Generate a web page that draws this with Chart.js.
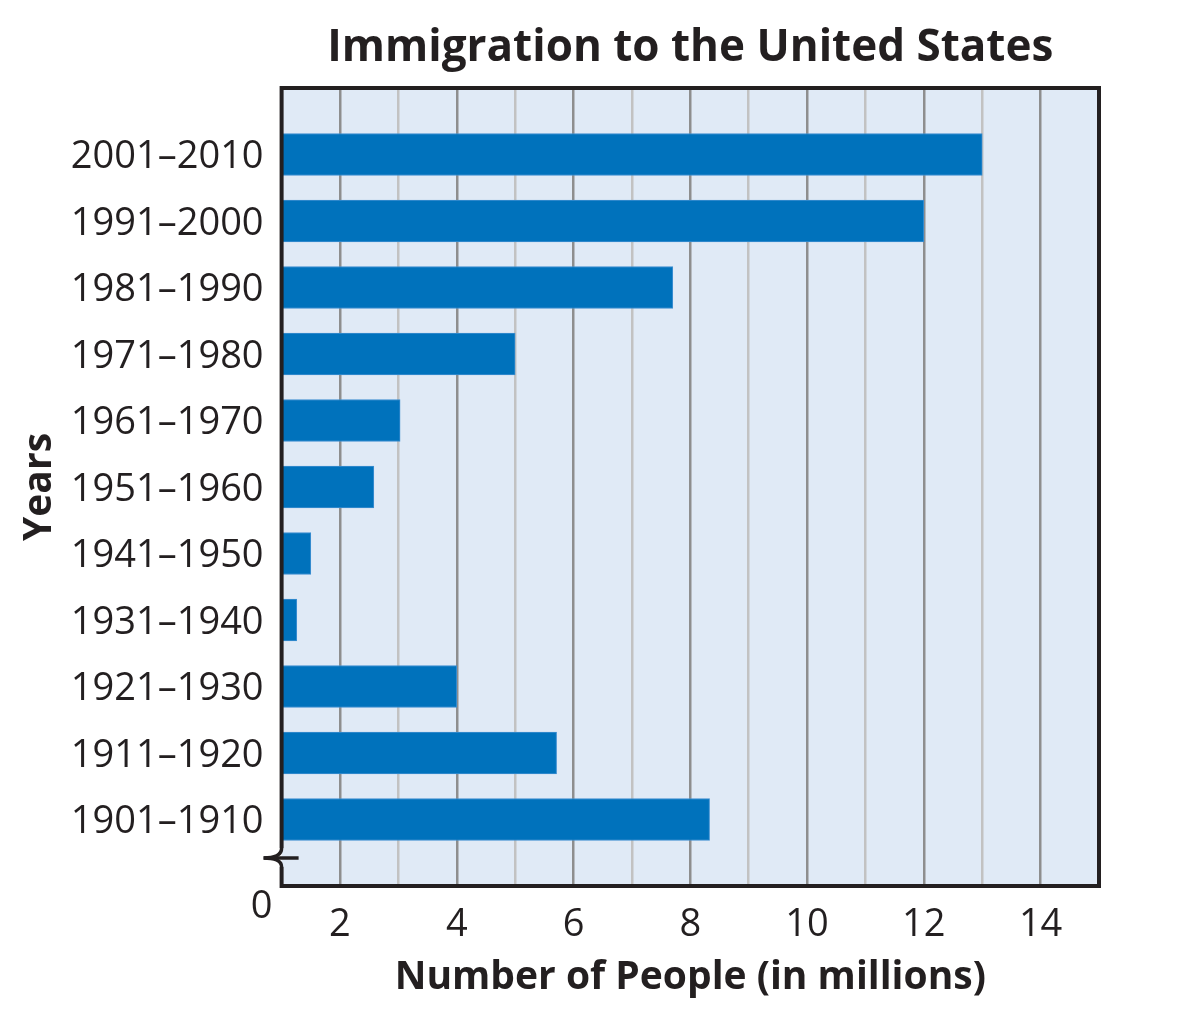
<!DOCTYPE html>
<html lang="en">
<head>
    <meta charset="UTF-8">
    <title>Immigration to the United States</title>
    <script src="https://cdn.jsdelivr.net/npm/chart.js"></script>
    <style>
        html, body {
            margin: 0;
            padding: 0;
            background: #ffffff;
            overflow: hidden;
        }
        .chart-box {
            width: 1182px;
            height: 1035px;
        }
    </style>
</head>
<body>
    <div class="chart-box">
        <canvas id="immigrationChart"></canvas>
    </div>

    <script>
        // Decades, oldest first (drawn bottom to top)
        const periods = ['1901–1910', '1911–1920', '1921–1930', '1931–1940', '1941–1950',
                         '1951–1960', '1961–1970', '1971–1980', '1981–1990', '1991–2000', '2001–2010'];
        // Number of people (in millions)
        const immigrants = [8.33, 5.71, 4.0, 1.26, 1.5, 2.58, 3.03, 5.0, 7.7, 12.0, 13.0];
        // Labelled ticks on the value axis
        const xTickLabels = [2, 4, 6, 8, 10, 12, 14];
        const breakLabel = '0';

        const ink = '#231f20';
        const barBlue = '#0072bc';
        const plotFill = '#e0eaf6';

        Chart.defaults.font.family = "'Open Sans', sans-serif";
        Chart.defaults.color = ink;

        // Plot background, frame and the axis break at the lower left
        const framePlugin = {
            id: 'frame',
            beforeDraw(chart) {
                const { ctx, chartArea: a } = chart;
                ctx.save();
                ctx.fillStyle = plotFill;
                ctx.fillRect(a.left, a.top, a.right - a.left, a.bottom - a.top);
                ctx.restore();
            },
            afterDatasetsDraw(chart) {
                const { ctx, chartArea: a } = chart;
                const by = a.bottom - 28;
                ctx.save();
                ctx.strokeStyle = ink;
                ctx.lineWidth = 4;
                ctx.lineJoin = 'miter';

                ctx.beginPath();
                ctx.moveTo(a.left, by - 10);
                ctx.lineTo(a.left, a.top);
                ctx.lineTo(a.right, a.top);
                ctx.lineTo(a.right, a.bottom);
                ctx.lineTo(a.left - 2, a.bottom);
                ctx.moveTo(a.left, a.bottom);
                ctx.lineTo(a.left, by + 9);
                ctx.stroke();

                // brace-like break
                ctx.lineWidth = 3.5;
                ctx.beginPath();
                ctx.moveTo(a.left, by - 10);
                ctx.quadraticCurveTo(a.left, by, a.left - 18, by);
                ctx.quadraticCurveTo(a.left, by, a.left, by + 9);
                ctx.stroke();
                ctx.beginPath();
                ctx.moveTo(a.left - 18, by);
                ctx.lineTo(a.left + 17, by);
                ctx.stroke();

                ctx.fillStyle = ink;
                ctx.font = "38px 'Open Sans', sans-serif";
                ctx.textAlign = 'center';
                ctx.textBaseline = 'middle';
                ctx.fillText(breakLabel, a.left - 20, a.bottom + 21);
                ctx.restore();
            }
        };

        const ctx = document.getElementById('immigrationChart').getContext('2d');

        new Chart(ctx, {
            type: 'bar',
            data: {
                labels: ['', ...periods, ''],
                datasets: [{
                    data: [null, ...immigrants, null],
                    backgroundColor: barBlue,
                    borderColor: '#3d8fd1',
                    borderWidth: 1,
                    barThickness: 42,
                    base: 1
                }]
            },
            options: {
                indexAxis: 'y',
                responsive: true,
                maintainAspectRatio: false,
                animation: false,
                layout: {
                    padding: { left: 0, right: 83, top: 0, bottom: 0 }
                },
                plugins: {
                    legend: { display: false },
                    tooltip: { enabled: false },
                    title: {
                        display: true,
                        text: 'Immigration to the United States',
                        fullSize: false,
                        color: ink,
                        font: { size: 44, weight: 'bold' },
                        padding: { top: 22, bottom: 13.2 }
                    }
                },
                scales: {
                    x: {
                        type: 'linear',
                        min: 1,
                        max: 15,
                        afterFit(scale) { scale.height = 149; },
                        border: { display: false },
                        grid: {
                            drawTicks: false,
                            lineWidth: 2.5,
                            color(c) {
                                const v = c.tick && c.tick.value;
                                if (v === 1 || v === 15) return 'rgba(0,0,0,0)';
                                return v % 2 === 0 ? '#8e8e8e' : '#c2c2c2';
                            }
                        },
                        ticks: {
                            stepSize: 1,
                            autoSkip: false,
                            maxRotation: 0,
                            padding: 16,
                            color: ink,
                            font: { size: 38 },
                            callback: (v) => xTickLabels.includes(v) ? String(v) : ''
                        },
                        title: {
                            display: true,
                            text: 'Number of People (in millions)',
                            color: ink,
                            font: { size: 39, weight: 'bold' },
                            padding: { top: 0, bottom: 34 }
                        }
                    },
                    y: {
                        reverse: true,
                        offset: false,
                        afterFit(scale) {
                            scale.width = 281.6;
                            // labels sit a little below the bar centres in the original
                            if (!scale._labelsShifted) {
                                const drawLabels = scale.drawLabels;
                                scale.drawLabels = function (area) {
                                    this.ctx.save();
                                    this.ctx.translate(0, 3);
                                    drawLabels.call(this, area);
                                    this.ctx.restore();
                                };
                                scale._labelsShifted = true;
                            }
                        },
                        border: { display: false },
                        grid: { display: false, drawTicks: false },
                        ticks: {
                            autoSkip: false,
                            padding: 18,
                            color: ink,
                            font: { size: 38 }
                        },
                        title: {
                            display: true,
                            text: 'Years',
                            color: ink,
                            font: { size: 39, weight: 'bold' },
                            padding: { top: 16, bottom: 0 }
                        }
                    }
                }
            },
            plugins: [framePlugin]
        });
    </script>
</body>
</html>
